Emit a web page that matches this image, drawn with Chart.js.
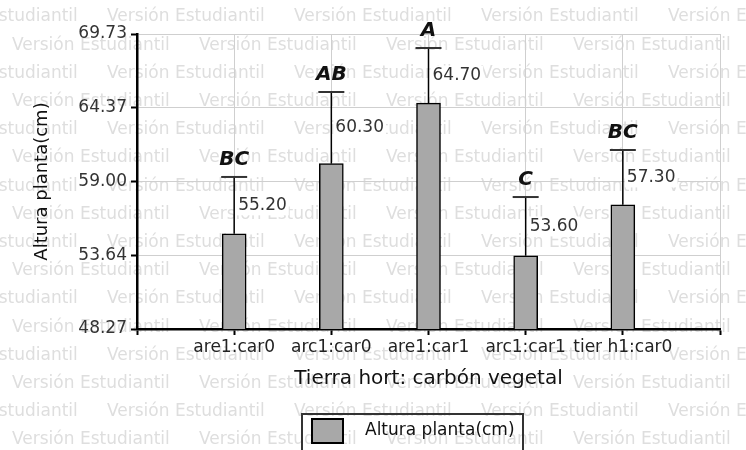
<!DOCTYPE html>
<html>
<head>
<meta charset="utf-8">
<title>Altura planta</title>
<script src="https://cdn.jsdelivr.net/npm/chart.js@4.4.1/dist/chart.umd.min.js"></script>
<style>
  html, body { margin: 0; padding: 0; background: #fff; }
  #chart { display: block; }
</style>
</head>
<body>
<canvas id="chart" width="746" height="450"></canvas>
<script>
// data
const categories = ['are1:car0', 'arc1:car0', 'are1:car1', 'arc1:car1', 'tier h1:car0'];
const means = [55.20, 60.30, 64.70, 53.60, 57.30];
const errors = [4.13, 5.21, 4.01, 4.27, 3.99];
const letters = ['BC', 'AB', 'A', 'C', 'BC'];
const yTicks = [48.27, 53.64, 59.00, 64.37, 69.73];
const seriesName = 'Altura planta(cm)';
const xTitle = 'Tierra hort: carbón vegetal';
const watermark = 'Versión Estudiantil';

Chart.defaults.font.family = "'DejaVu Sans', sans-serif";

// empty slots at both ends so the axis runs one step past the bars
const labels = [''].concat(categories, ['']);
const values = [null].concat(means, [null]);

const watermarkPlugin = {
    id: 'watermark',
    beforeDraw(chart) {
        const ctx = chart.ctx;
        ctx.save();
        ctx.font = "17px 'DejaVu Sans'";
        ctx.fillStyle = '#dedede';
        ctx.textBaseline = 'middle';
        for (let k = 0; k < 16; k++) {
            const y = 17 + k * 28.2;
            let x = (k % 2 === 0) ? -80 : 12;
            for (; x < chart.width; x += 187) {
                ctx.fillText(watermark, x, y);
            }
        }
        ctx.restore();
    }
};

const errorPlugin = {
    id: 'errorBars',
    afterDatasetsDraw(chart) {
        const ctx = chart.ctx;
        const yScale = chart.scales.y;
        const meta = chart.getDatasetMeta(0);
        ctx.save();
        means.forEach((m, j) => {
            const bar = meta.data[j + 1];
            const x = bar.x;
            const top = bar.y;
            const cap = yScale.getPixelForValue(m + errors[j]);

            // whisker
            ctx.strokeStyle = '#000';
            ctx.lineWidth = 1.5;
            ctx.beginPath();
            ctx.moveTo(x, top);
            ctx.lineTo(x, cap);
            ctx.stroke();
            ctx.strokeStyle = '#333';
            ctx.lineWidth = 2;
            ctx.beginPath();
            ctx.moveTo(x - 13, cap);
            ctx.lineTo(x + 13, cap);
            ctx.stroke();

            // mean value, halfway up the whisker
            const txt = m.toFixed(2);
            ctx.font = "17px 'DejaVu Sans'";
            const w = ctx.measureText(txt).width;
            const midY = (top + cap) / 2;
            ctx.fillStyle = '#fff';
            ctx.fillRect(x + 2, midY - 10, w + 4, 20);
            ctx.fillStyle = '#333';
            ctx.textAlign = 'left';
            ctx.textBaseline = 'middle';
            ctx.fillText(txt, x + 4, midY);

            // significance letters
            ctx.font = "italic bold 20px 'DejaVu Sans'";
            ctx.fillStyle = '#111';
            ctx.textAlign = 'center';
            ctx.fillText(letters[j], x, cap - 17);
        });
        ctx.restore();
    }
};

const legendPlugin = {
    id: 'boxLegend',
    afterDraw(chart) {
        const ctx = chart.ctx;
        const ds = chart.data.datasets[0];
        ctx.save();
        ctx.strokeStyle = '#333';
        ctx.lineWidth = 2;
        ctx.strokeRect(302, 414, 221, 50);
        ctx.fillStyle = ds.backgroundColor;
        ctx.fillRect(312, 419, 31, 24);
        ctx.strokeStyle = '#000';
        ctx.strokeRect(312, 419, 31, 24);
        ctx.fillStyle = '#111';
        ctx.font = "17px 'DejaVu Sans'";
        ctx.textBaseline = 'middle';
        ctx.fillText(ds.label, 365, 431);
        ctx.restore();
    }
};

new Chart(document.getElementById('chart'), {
    type: 'bar',
    data: {
        labels: labels,
        datasets: [{
            label: seriesName,
            data: values,
            backgroundColor: '#a8a8a8',
            borderColor: '#000',
            borderWidth: 1.5,
            barThickness: 24
        }]
    },
    options: {
        responsive: false,
        animation: false,
        layout: { padding: { left: 0, top: 34, right: 26, bottom: 50 } },
        plugins: {
            legend: { display: false },
            tooltip: { enabled: false }
        },
        scales: {
            x: {
                offset: false,
                grid: { offset: false, color: '#cfcfcf', tickLength: 6, tickColor: '#000', tickWidth: 2 },
                border: { color: '#000', width: 2.5 },
                ticks: { color: '#222', font: { size: 17 }, padding: 2, maxRotation: 0, autoSkip: false },
                afterFit: s => { s.height = 71; },
                title: { display: true, text: xTitle, color: '#111', font: { size: 20 }, padding: { top: 0, bottom: 9 } }
            },
            y: {
                min: yTicks[0],
                max: yTicks[yTicks.length - 1],
                afterBuildTicks: s => { s.ticks = yTicks.map(v => ({ value: v })); },
                afterFit: s => { s.width = 137; },
                grid: { color: '#cfcfcf', lineWidth: 1, tickLength: 6, tickColor: '#000', tickWidth: 2 },
                border: { color: '#000', width: 2.5 },
                ticks: { color: '#333', font: { size: 17 }, padding: 4, callback: v => Number(v).toFixed(2) },
                title: { display: true, text: seriesName, color: '#111', font: { size: 18 }, padding: { top: 32, bottom: 0 } }
            }
        }
    },
    plugins: [watermarkPlugin, errorPlugin, legendPlugin]
});
</script>
</body>
</html>
